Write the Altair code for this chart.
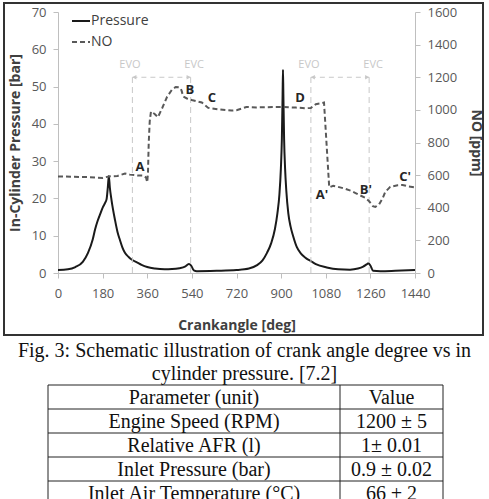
import altair as alt
import pandas as pd

# ---------------- data ----------------
p_deg = [0, 40, 70, 100, 121, 140, 150, 160, 170, 182, 190, 196, 201, 205, 209, 216, 230, 240, 250, 260,
         270, 285, 297, 320, 337, 360, 391, 430, 460, 490, 512, 528, 537, 548, 560, 640, 720, 770, 803, 825,
         843, 860, 875, 885, 893, 899, 903, 906, 907.5, 909, 912, 916, 921, 929, 938, 948, 963, 980, 1000, 1020,
         1040, 1084, 1130, 1178, 1210, 1231, 1245, 1252, 1260, 1271, 1300, 1360, 1440]
p_bar = [0.8, 1.0, 1.6, 3.0, 5.4, 9.0, 11.8, 14.0, 15.8, 17.8, 18.8, 19.8, 23.0, 26.0, 23.0, 19.5, 14.2, 11.0, 8.8, 6.8,
         5.4, 4.3, 3.6, 2.8, 2.2, 1.6, 1.2, 1.0, 1.05, 1.3, 1.7, 2.4, 2.0, 0.7, 0.5, 0.6, 0.8, 1.2, 2.1, 3.4,
         5.4, 8.0, 11.8, 16.0, 21.0, 28.0, 36.0, 48.0, 54.5, 48.0, 36.0, 28.0, 22.0, 16.0, 12.5, 10.0, 7.0, 5.2, 4.0, 3.2,
         2.4, 1.5, 1.0, 0.9, 1.2, 1.7, 2.3, 2.6, 2.0, 0.6, 0.5, 0.6, 0.8]

no_deg = [0, 60, 120, 180, 205, 240, 270, 290, 320, 345, 355, 360, 363, 366, 370, 375, 390, 403, 420, 440,
          460, 475, 490, 498, 505, 520, 539, 580, 606, 650, 700, 720, 760, 800, 900, 960, 1000, 1020, 1040, 1060,
          1073, 1094, 1110, 1125, 1150, 1180, 1200, 1220, 1240, 1255, 1270, 1280, 1295, 1310, 1320, 1340, 1370, 1390, 1410, 1440]
no_ppm = [592, 590, 588, 583, 592, 595, 610, 603, 598, 597, 585, 556, 620, 800, 930, 990, 975, 955, 1010, 1080,
          1125, 1140, 1138, 1120, 1082, 1070, 1061, 1045, 1012, 1003, 996, 998, 1018, 1015, 1018, 1014, 1010, 1012, 1035, 1040,
          1045, 525, 535, 530, 520, 505, 490, 475, 460, 440, 410, 405, 420, 460, 497, 528, 538, 540, 532, 525]

valve_deg = [300, 535, 1020, 1255]
valve_text = ["EVO", "EVC", "EVO", "EVC"]
valve_label_deg = [290, 549, 1012, 1271]
valve_top_bar = 52.5
valve_label_bar = 55.8
arrow_start = [300, 1020]
arrow_end = [535, 1255]

letters = ["A", "B", "C", "D", "A'", "B'", "C'"]
letter_deg = [331, 532, 621, 976, 1065, 1242, 1400]
letter_ppm = [650, 1123, 1074, 1074, 479, 509, 589]

x_ticks = [0, 180, 360, 540, 720, 900, 1080, 1260, 1440]
p_ticks = [0, 10, 20, 30, 40, 50, 60, 70]
no_ticks = [0, 200, 400, 600, 800, 1000, 1200, 1400, 1600]

caption_lines = ["Fig. 3: Schematic illustration of crank angle degree vs in",
                 "cylinder pressure. [7.2]"]
table_params = ["Parameter (unit)", "Engine Speed (RPM)", "Relative AFR (l)",
                "Inlet Pressure (bar)", "Inlet Air Temperature (\u00b0C)"]
table_values = ["Value", "1200 \u00b1 5", "1\u00b1 0.01", "0.9 \u00b1 0.02", "66 \u00b1 2"]

# ---------------- layout / style ----------------
W, H = 357, 261
L, T = 58, 12
SANS = "Open Sans"
SERIF = "Liberation Serif"
AX = "#bfbfbf"
LAB = "#595959"
TIT = "#404040"
VALVE = "#c8c8c8"


def px(xabs):
    return xabs - L


def py(yabs):
    return yabs - T


common_axis = dict(grid=False, domainColor=AX, tickColor=AX, tickSize=5, labelFont=SANS, labelFontSize=13,
                   labelColor=LAB, labelOverlap=False, format="d",
                   titleFont=SANS, titleFontSize=14, titleFontWeight="bold", titleColor=TIT)

x_axis = alt.Axis(values=x_ticks, title="Crankangle [deg]", labelPadding=9, titlePadding=18,
                  labelFlush=False, **common_axis)
x_scale = alt.Scale(domain=[0, 1440], nice=False, zero=False)

p_axis = alt.Axis(values=p_ticks, title="In-Cylinder Pressure [bar]", orient="left", labelPadding=7,
                  titlePadding=9, **common_axis)
p_scale = alt.Scale(domain=[0, 70], nice=False)

no_axis = alt.Axis(values=no_ticks, title="NO [ppm]", orient="right", labelPadding=7, titlePadding=12,
                   **common_axis)
no_scale = alt.Scale(domain=[0, 1600], nice=False)


def X(f):
    return alt.X(f"{f}:Q", scale=x_scale, axis=x_axis)


def YP(f):
    return alt.Y(f"{f}:Q", scale=p_scale, axis=p_axis)


def YN(f):
    return alt.Y(f"{f}:Q", scale=no_scale, axis=no_axis)


one = pd.DataFrame({"k": [0]})

# ---------------- pressure-scale layers ----------------
p_df = pd.DataFrame({"deg": p_deg, "bar": p_bar})
pressure = alt.Chart(p_df).mark_line(color="#1a1a1a", strokeWidth=2, interpolate="monotone").encode(
    x=X("deg"), y=YP("bar"))

v_df = pd.DataFrame({"deg": valve_deg, "y0": [0] * len(valve_deg), "y1": [valve_top_bar] * len(valve_deg),
                     "ldeg": valve_label_deg, "ly": [valve_label_bar] * len(valve_deg), "t": valve_text})
valves = alt.Chart(v_df).mark_rule(color=VALVE, strokeDash=[6, 4], strokeWidth=1).encode(
    x=X("deg"), y=YP("y0"), y2="y1")
valve_labels = alt.Chart(v_df).mark_text(font=SANS, fontSize=11, color=VALVE).encode(
    x=X("ldeg"), y=YP("ly"), text="t:N")

a_df = pd.DataFrame({"s": arrow_start, "e": arrow_end, "y": [valve_top_bar] * len(arrow_start)})
arrows = alt.Chart(a_df).mark_rule(color=VALVE, strokeDash=[5, 4], strokeWidth=1).encode(
    x=X("s"), x2="e", y=YP("y"))
h_df = pd.DataFrame({"deg": [s + 8 for s in arrow_start] + [e - 8 for e in arrow_end],
                     "y": [valve_top_bar] * (2 * len(arrow_start)),
                     "shape": ["triangle-left"] * len(arrow_start) + ["triangle-right"] * len(arrow_end)})
heads = alt.Chart(h_df).mark_point(filled=True, size=22, color=VALVE, opacity=1).encode(
    x=X("deg"), y=YP("y"), shape=alt.Shape("shape:N", scale=None))

# legend
leg_p_line = alt.Chart(one).mark_rule(color="#1a1a1a", strokeWidth=2).encode(
    x=alt.value(px(72)), x2=alt.value(px(90)), y=alt.value(py(21)))
leg_n_line = alt.Chart(one).mark_rule(color="#595959", strokeWidth=2, strokeDash=[5, 3]).encode(
    x=alt.value(px(72)), x2=alt.value(px(90)), y=alt.value(py(42)))
leg_p_text = alt.Chart(one).mark_text(text="Pressure", font=SANS, fontSize=14, color=TIT, align="left",
                                      baseline="middle").encode(x=alt.value(px(91)), y=alt.value(py(21)))
leg_n_text = alt.Chart(one).mark_text(text="NO", font=SANS, fontSize=14, color=TIT, align="left",
                                      baseline="middle").encode(x=alt.value(px(91)), y=alt.value(py(42)))

# frame around the figure
frame = alt.Chart(one).mark_rect(fillOpacity=0, stroke="#333333", strokeWidth=2).encode(
    x=alt.value(px(4)), x2=alt.value(px(483)), y=alt.value(py(3)), y2=alt.value(py(335)))

# caption
caption = alt.Chart(one).mark_text(text=caption_lines, font=SERIF, fontSize=20, color="#111111",
                                   align="center", baseline="alphabetic", lineHeight=23).encode(
    x=alt.value(px(244.5)), y=alt.value(py(357)))

# table
n_rows = len(table_params)
row_h = 24
tab_top = 385
t_df = pd.DataFrame({"param": table_params, "value": table_values,
                     "ty": [py(tab_top + row_h * i + row_h / 2 + 1) for i in range(n_rows)]})
hl_df = pd.DataFrame({"ly": [py(tab_top + row_h * i) for i in range(n_rows + 1)]})
vl_df = pd.DataFrame({"lx": [px(48), px(340), px(443)]})

t_hlines = alt.Chart(hl_df).mark_rule(color="#222222", strokeWidth=1).encode(
    y=alt.Y("ly:Q", scale=None, axis=None), x=alt.value(px(48)), x2=alt.value(px(443)))
t_vlines = alt.Chart(vl_df).mark_rule(color="#222222", strokeWidth=1).encode(
    x=alt.X("lx:Q", scale=None, axis=None), y=alt.value(py(tab_top)), y2=alt.value(py(520)))
t_param = alt.Chart(t_df).mark_text(font=SERIF, fontSize=20, color="#111111", baseline="middle").encode(
    x=alt.value(px(194)), y=alt.Y("ty:Q", scale=None, axis=None), text="param:N")
t_value = alt.Chart(t_df).mark_text(font=SERIF, fontSize=20, color="#111111", baseline="middle").encode(
    x=alt.value(px(391.5)), y=alt.Y("ty:Q", scale=None, axis=None), text="value:N")

left_layer = alt.layer(pressure, valves, arrows, heads, valve_labels,
                       leg_p_line, leg_n_line, leg_p_text, leg_n_text,
                       frame, caption, t_hlines, t_vlines, t_param, t_value)

# ---------------- NO-scale layers ----------------
n_df = pd.DataFrame({"deg": no_deg, "ppm": no_ppm})
no_line = alt.Chart(n_df).mark_line(color="#595959", strokeWidth=2, strokeDash=[5, 3]).encode(
    x=X("deg"), y=YN("ppm"))
l_df = pd.DataFrame({"deg": letter_deg, "ppm": letter_ppm, "t": letters})
letter_marks = alt.Chart(l_df).mark_text(font=SANS, fontSize=13, fontWeight="bold", color="#262626").encode(
    x=X("deg"), y=YN("ppm"), text="t:N")
right_layer = alt.layer(no_line, letter_marks)

chart = alt.layer(left_layer, right_layer).resolve_scale(y="independent").properties(
    width=W, height=H,
    padding={"left": L, "top": T, "right": 489 - L - W, "bottom": 499 - T - H},
    autosize=alt.AutoSizeParams(type="none"),
    background="white",
).configure_view(stroke=None)

chart.save("out.html", embed_options={"renderer": "svg", "actions": False})
